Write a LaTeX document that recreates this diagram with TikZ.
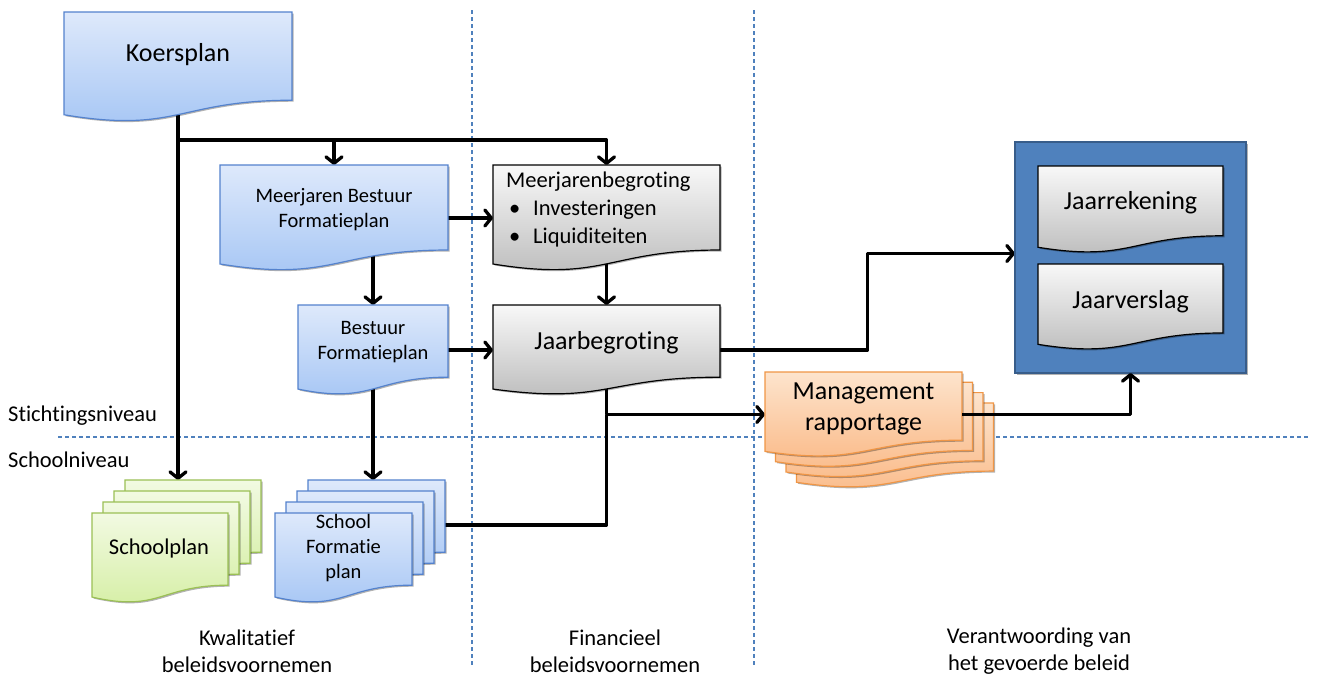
\documentclass[tikz,border=0pt]{standalone}
\usepackage{fontspec}
\setmainfont{Carlito}[Ligatures=NoCommon]
\usetikzlibrary{calc,shadows,arrows.meta}
\pgfdeclarelayer{back}\pgfdeclarelayer{lines}\pgfdeclarelayer{shapes}
\pgfsetlayers{back,lines,shapes,main}
\definecolor{bluetop}{RGB}{222,233,251}
\definecolor{bluebot}{RGB}{163,196,244}
\definecolor{blueline}{RGB}{84,130,205}
\definecolor{graytop}{RGB}{248,248,248}
\definecolor{graybot}{RGB}{185,185,185}
\definecolor{greentop}{RGB}{242,250,226}
\definecolor{greenbot}{RGB}{212,238,162}
\definecolor{greenline}{RGB}{155,192,85}
\definecolor{orangetop}{RGB}{253,228,205}
\definecolor{orangebot}{RGB}{250,186,136}
\definecolor{orangeline}{RGB}{240,150,70}
\definecolor{jfill}{RGB}{79,129,189}
\definecolor{jline}{RGB}{56,93,138}
\definecolor{dashblue}{RGB}{79,129,189}
\tikzset{
  shadowed/.style={drop shadow={shadow xshift=1.5pt,shadow yshift=-1.5pt,opacity=0.3,fill=black}},
  bluedoc/.style={top color=bluetop,bottom color=bluebot,draw=blueline,line width=1.2pt,shadowed},
  graydoc/.style={top color=graytop,bottom color=graybot,draw=black,line width=1.2pt,shadowed},
  greendoc/.style={top color=greentop,bottom color=greenbot,draw=greenline,line width=1.2pt,shadowed},
  orangedoc/.style={top color=orangetop,bottom color=orangebot,draw=orangeline,line width=1.2pt,shadowed},
  conn/.style={line width=3.3pt,line join=round,-{Straight Barb[length=6.5pt,width=16pt,round]}},
  plainconn/.style={line width=3.3pt,line join=round},
  guide/.style={dashblue,line width=1.3pt,dash pattern=on 4pt off 3pt},
  bigtxt/.style={font=\fontsize{26}{31}\selectfont,align=center,inner sep=0pt},
  medtxt/.style={font=\fontsize{22.5}{28}\selectfont,align=center,inner sep=0pt},
  smalltxt/.style={font=\fontsize{20.5}{25}\selectfont,align=center,inner sep=0pt},
}
% #1 name, #2 cx, #3 cy, #4 width, #5 height, #6 style
\newcommand\docsheet[6]{%
  \node[minimum width=#4pt,minimum height=#5pt,inner sep=0pt,outer sep=0pt] (#1) at (#2,#3) {};
  \begin{pgfonlayer}{shapes}
  \path[#6] (#1.north west) -- (#1.north east)
     -- ($(#1.north east)!0.802!(#1.south east)$)
     .. controls ($(#1.north)!0.802!(#1.south)$) and ($(#1.north)!1.107!(#1.south)$)
     .. ($(#1.north west)!0.934!(#1.south west)$) -- cycle;
  \end{pgfonlayer}}
\begin{document}
\begin{tikzpicture}[x=1pt,y=-1pt]
\useasboundingbox (0,0) rectangle (1317,678);
\begin{pgfonlayer}{back}
  \fill[white] (0,0) rectangle (1317,678);
  \draw[guide] (472,10) -- (472,665);
  \draw[guide] (754,10) -- (754,665);
  \draw[guide] (58,437) -- (1310,437);
\end{pgfonlayer}

% documents
\docsheet{koers}{178}{67}{228}{110}{bluedoc}
\docsheet{mbf}{334}{218}{228}{106}{bluedoc}
\docsheet{bf}{373}{350}{150}{90}{bluedoc}
\docsheet{mjb}{606.5}{218}{227}{106}{graydoc}
\docsheet{jb}{606.5}{350}{227}{90}{graydoc}

\node[minimum width=231pt,minimum height=231pt,inner sep=0pt,outer sep=0pt] (jbox) at (1130.5,257.5) {};
\begin{pgfonlayer}{shapes}
  \path[fill=jfill,draw=jline,line width=2pt,shadowed] (jbox.north west) rectangle (jbox.south east);
\end{pgfonlayer}
\docsheet{jr}{1130.5}{209.5}{185}{87}{graydoc}
\docsheet{jv}{1130.5}{307}{185}{86}{graydoc}

% stacks
\docsheet{mr4}{895}{445.4}{197}{85}{orangedoc}
\docsheet{mr3}{884.5}{435.1}{197}{85}{orangedoc}
\docsheet{mr2}{874}{424.8}{197}{85}{orangedoc}
\docsheet{mr1}{863.5}{414.5}{197}{85}{orangedoc}

\docsheet{sp4}{193}{525}{136}{90}{greendoc}
\docsheet{sp3}{182}{536}{136}{90}{greendoc}
\docsheet{sp2}{171}{547}{136}{90}{greendoc}
\docsheet{sp1}{160}{558}{136}{90}{greendoc}

\docsheet{sfp4}{376.5}{525}{137}{90}{bluedoc}
\docsheet{sfp3}{365.5}{536}{137}{90}{bluedoc}
\docsheet{sfp2}{354.5}{547}{137}{90}{bluedoc}
\docsheet{sfp1}{343.5}{558}{137}{90}{bluedoc}

% texts
\node[bigtxt] (koers-t) at (178,55) {Koersplan};
\node[smalltxt] (mbf-t) at (334,209.5) {Meerjaren Bestuur\\Formatieplan};
\node[smalltxt] (bf-t) at (373,342) {Bestuur\\Formatieplan};
\node[medtxt,align=left,anchor=west] (mjb-t) at (506,209)
  {Meerjarenbegroting\\\makebox[27pt][l]{\hspace{3pt}\textbullet}Investeringen\\\makebox[27pt][l]{\hspace{3pt}\textbullet}Liquiditeiten};
\node[bigtxt] (jb-t) at (606.5,343) {Jaarbegroting};
\node[bigtxt] (jr-t) at (1130.5,203) {Jaarrekening};
\node[bigtxt] (jv-t) at (1130.5,302) {Jaarverslag};
\node[bigtxt] (mr-t) at (863.5,409) {Management\\rapportage};
\node[medtxt] (sp-t) at (159,548) {Schoolplan};
\node[smalltxt] (sfp-t) at (343.5,548) {School\\Formatie\\plan};

\node[medtxt,anchor=west] (stn) at (8,416) {Stichtingsniveau};
\node[medtxt,anchor=west] (scn) at (8,460) {Schoolniveau};
\node[medtxt,font=\fontsize{22.5}{27}\selectfont] (l1) at (247,651) {Kwalitatief\\beleidsvoornemen};
\node[medtxt,font=\fontsize{22.5}{27}\selectfont] (l2) at (615,651) {Financieel\\beleidsvoornemen};
\node[medtxt,font=\fontsize{22.5}{27}\selectfont] (l3) at (1039,651) {Verantwoording van\\het gevoerde beleid};

% connectors
\coordinate (j1) at (koers.center |- 0,140);
\coordinate (j2) at (jb.center |- mr1.west);
\begin{pgfonlayer}{lines}
  \draw[conn] (koers.center) -- (j1) -| (mjb.north);
  \draw[conn] (j1) -- (j1 |- sp4.north);
  \draw[conn] (mbf.north |- j1) -- (mbf.north);
  \draw[conn] (mbf.east) -- (mjb.west);
  \draw[conn] (mbf.center -| bf.north) -- (bf.north);
  \draw[conn] (mjb.center) -- (jb.north);
  \draw[conn] (bf.east) -- (jb.west);
  \draw[conn] (bf.center) -- (bf.center |- sfp4.north);
  \draw[conn] (jb.east) -| ($(jb.east)!.5!(jbox.west)$) |- ([yshift=4pt]jbox.west);
  \draw[conn] (jb.center) -- (j2) -- (mr1.west);
  \draw[plainconn] (sfp4.east) -| (j2);
\end{pgfonlayer}
\draw[conn] (mr1.east) -| (jbox.south);
\end{tikzpicture}
\end{document}
